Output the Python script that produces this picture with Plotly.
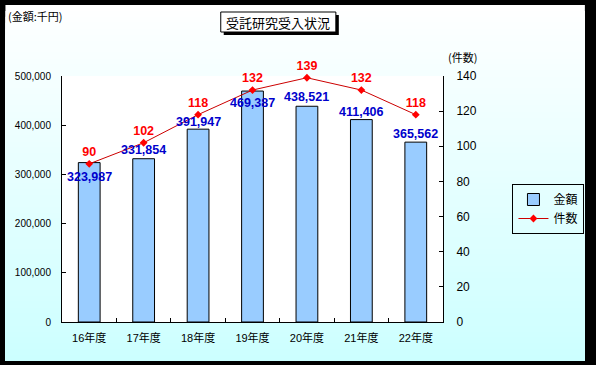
import plotly.graph_objects as go

# ---- data ----
categories = ["16年度", "17年度", "18年度", "19年度", "20年度", "21年度", "22年度"]
amounts = [323987, 331854, 391947, 469387, 438521, 411406, 365562]   # 金額 (千円)
counts = [90, 102, 118, 132, 139, 132, 118]                           # 件数
amount_label_shift = [-14, 9, 7, -12, 9, 8, 8]   # vertical offsets of the bar labels (px)

W, H = 596, 365
L, R, T, B = 62, 446, 76, 322   # plot area in pixels

def px(x):
    return (x - L) / (R - L)

def py(y):
    return (B - y) / (B - T)

fig = go.Figure()

fig.add_trace(go.Bar(
    x=categories, y=amounts, name="金額",
    marker=dict(color="#99ccff", line=dict(color="black", width=1)),
    width=0.4,
))

fig.add_trace(go.Scatter(
    x=categories, y=counts, name="件数", yaxis="y2",
    mode="lines+markers+text",
    line=dict(color="#cc0000", width=1),
    marker=dict(symbol="diamond", size=6, color="#ff0000"),
    text=[str(c) for c in counts], textposition="top center",
    textfont=dict(family="Liberation Sans, Arial", size=12.5, color="#ff0000", weight="bold"),
    cliponaxis=False,
))

shapes = []
# gradient background (white -> light cyan); stacked strips so there are no seams
x0, x1 = px(5), px(589)
ytop, ybot = 5, 361
n = 60
for i in range(n):
    ya = ytop + (ybot - ytop) * i / n
    t = (i + 0.5) / n
    col = f"rgb({int(round(255 - (255 - 204) * t))},255,255)"
    shapes.append(dict(type="rect", xref="paper", yref="paper",
                       x0=x0, x1=x1, y0=py(ybot), y1=py(ya),
                       fillcolor=col, line=dict(width=0), layer="below"))
# white plot area
shapes.append(dict(type="rect", xref="paper", yref="paper", x0=0, x1=1, y0=0, y1=1,
                   fillcolor="white", line=dict(width=0), layer="below"))
# title box with shadow
shapes.append(dict(type="rect", xref="paper", yref="paper",
                   x0=px(225), x1=px(341), y0=py(35), y1=py(15),
                   fillcolor="black", line=dict(width=0)))
shapes.append(dict(type="rect", xref="paper", yref="paper",
                   x0=px(222), x1=px(338), y0=py(32), y1=py(12),
                   fillcolor="white", line=dict(color="black", width=1)))

annotations = []
for c, v, s in zip(categories, amounts, amount_label_shift):
    annotations.append(dict(
        x=c, y=v, xref="x", yref="y", text=f"{v:,}", showarrow=False,
        yanchor="middle", yshift=s,
        font=dict(family="Liberation Sans, Arial", size=12.5, color="#0000cc", weight="bold"),
    ))
annotations.append(dict(x=px(280), y=py(22), xref="paper", yref="paper",
                        xanchor="center", yanchor="middle",
                        text="受託研究受入状況", showarrow=False,
                        font=dict(family="Noto Sans CJK JP", size=13, color="black")))
annotations.append(dict(x=px(6), y=py(16), xref="paper", yref="paper",
                        xanchor="left", yanchor="middle", text="(金額:千円)", showarrow=False,
                        font=dict(family="Noto Sans CJK JP", size=11, color="black")))
annotations.append(dict(x=px(449), y=py(57), xref="paper", yref="paper",
                        xanchor="left", yanchor="middle", text="(件数)", showarrow=False,
                        font=dict(family="Noto Sans CJK JP", size=11, color="black")))

fig.update_layout(
    width=W, height=H,
    margin=dict(l=L, r=W - R, t=T, b=H - B, pad=0),
    paper_bgcolor="black",
    plot_bgcolor="rgba(0,0,0,0)",
    showlegend=True,
    legend=dict(x=px(516), y=py(184), xanchor="left", yanchor="top",
                bgcolor="rgba(0,0,0,0)", bordercolor="black", borderwidth=1,
                font=dict(family="Noto Sans CJK JP", size=12, color="black"),
                itemwidth=30, tracegroupgap=0),
    xaxis=dict(type="category", showline=True, linecolor="black", linewidth=1,
               ticks="inside", ticklen=4, tickcolor="black", tickson="boundaries",
               showgrid=False, tickfont=dict(family="Liberation Sans, Noto Sans CJK JP", size=11, color="black"),
               ticklabelstandoff=6),
    yaxis=dict(range=[0, 500000], dtick=100000, tickformat=",", showline=True,
               linecolor="black", linewidth=1, ticks="inside", ticklen=4, tickcolor="black",
               showgrid=False, zeroline=False, tickfont=dict(family="Liberation Sans, Arial", size=10, color="black"),
               ticklabelstandoff=8),
    yaxis2=dict(range=[0, 140], dtick=20, overlaying="y", side="right", showline=True,
                linecolor="black", linewidth=1, ticks="inside", ticklen=4, tickcolor="black",
                showgrid=False, zeroline=False, tickfont=dict(family="Liberation Sans, Arial", size=12, color="black"),
                ticklabelstandoff=10),
    shapes=shapes,
    annotations=annotations,
    bargap=0.6,
)

fig.write_html(
    "out.html",
    config={"displayModeBar": False},
    post_script="document.body.style.margin='0';document.body.style.overflow='hidden';",
)
